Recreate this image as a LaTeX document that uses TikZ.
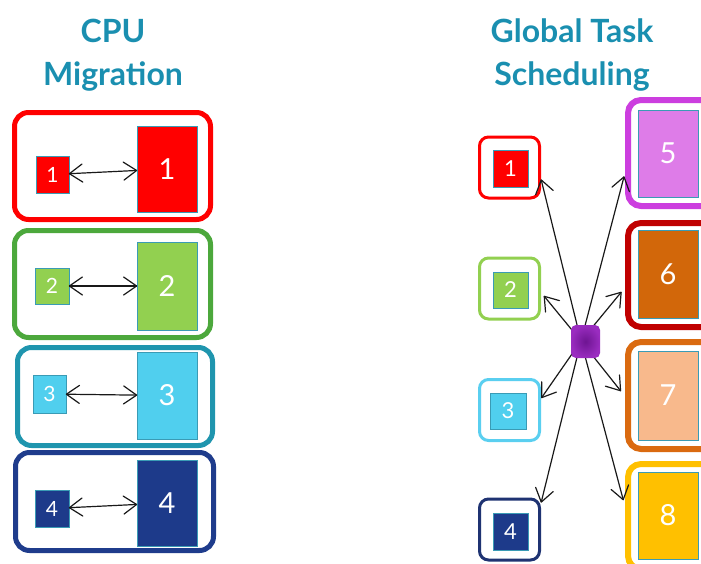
\documentclass[tikz,border=0pt]{standalone}
\usepackage{fontspec}
\setmainfont{Lato}
\usetikzlibrary{decorations.markings}

\definecolor{titleteal}{HTML}{1A8FB0}
\definecolor{innerline}{HTML}{3A9BB5}
\definecolor{cpured}{HTML}{FF0000}
\definecolor{greenframe}{HTML}{4CA83C}
\definecolor{greenfill}{HTML}{92D050}
\definecolor{tealframe}{HTML}{1F95AE}
\definecolor{cyanfill}{HTML}{50CFEE}
\definecolor{navyframe}{HTML}{1F3C8C}
\definecolor{navyfill}{HTML}{1D3A8A}
\definecolor{navydark}{HTML}{1F3372}
\definecolor{cyanframe}{HTML}{5ACFF0}
\definecolor{magframe}{HTML}{CC3EDF}
\definecolor{magfill}{HTML}{DE7CE8}
\definecolor{darkred}{HTML}{C00000}
\definecolor{rustfill}{HTML}{D2670A}
\definecolor{orangeframe}{HTML}{DA6A10}
\definecolor{peachfill}{HTML}{F8B98C}
\definecolor{amber}{HTML}{FFC000}
\definecolor{hubdark}{HTML}{6E1592}
\definecolor{hublight}{HTML}{9A2CC0}

\tikzset{
  heading/.style={text=titleteal, font=\fontsize{32}{34}\selectfont\bfseries, anchor=base},
  bigframe/.style={draw, fill=white, rounded corners=14pt, line width=5pt, inner sep=0pt},
  smallframe/.style={draw, fill=white, rounded corners=9pt, line width=3pt, inner sep=0pt,
    minimum width=60pt, minimum height=61pt},
  cpuframe/.style={draw, fill=white, rounded corners=13pt, line width=6pt, inner sep=0pt,
    minimum width=88pt},
  core/.style={draw=innerline, line width=0.8pt, text=white, inner sep=0pt},
  smallcore/.style={core, font=\fontsize{21}{21}\selectfont},
  tinycore/.style={core, font=\fontsize{22}{22}\selectfont},
  bigcore/.style={core, minimum width=60pt, font=\fontsize{29}{29}\selectfont},
  % open V heads drawn as marks on the connector
  vhead/.style={draw=black!90, line width=1.2pt, line cap=round, line join=round,
    shorten >=0pt, shorten <=0pt},
  migrate/.style={draw=black!90, line width=1.2pt,
    postaction={decorate, decoration={markings,
      mark=at position 0 with {\draw[vhead] (13pt,9pt) -- (0pt,0pt) -- (13pt,-9pt);},
      mark=at position 1 with {\draw[vhead] (-13pt,9pt) -- (0pt,0pt) -- (-13pt,-9pt);}}}},
  dispatch/.style={draw=black!90, line width=1.2pt, shorten >=#1,
    postaction={decorate, decoration={markings,
      mark=at position -#1 with {\draw[vhead] (-13pt,9pt) -- (0pt,0pt) -- (-13pt,-9pt);}}}},
}

\begin{document}
\begin{tikzpicture}[x=1pt,y=-1pt]
\useasboundingbox (0,0) rectangle (701,563);
\clip (0,0) rectangle (701,563);

% headings
\node[heading] (hcpu) at (113,42) {CPU};
\node[heading] (hmig) at (113,85) {Migration};
\node[heading] (hglob) at (572,42) {Global Task};
\node[heading] (hsched) at (572,85) {Scheduling};

% ---------- CPU migration: small core <-> big core pairs ----------
\node[bigframe, draw=cpured, minimum width=196pt, minimum height=107pt] (m1) at (112.5,166) {};
\node[bigframe, draw=greenframe, minimum width=196pt, minimum height=107pt] (m2) at (112.5,284) {};
\node[bigframe, draw=tealframe, minimum width=195pt, minimum height=98pt] (m3) at (115,396.5) {};
\node[bigframe, draw=navyframe, minimum width=198pt, minimum height=98pt] (m4) at (114.5,501.5) {};

\node[smallcore, fill=cpured, minimum width=33pt, minimum height=37pt] (s1) at (52.5,174.5) {1};
\node[smallcore, fill=greenfill, minimum width=34pt, minimum height=36pt] (s2) at (52,286) {2};
\node[smallcore, fill=cyanfill, minimum width=33pt, minimum height=38pt] (s3) at (49.5,394) {3};
\node[smallcore, fill=navyfill, minimum width=34pt, minimum height=37pt] (s4) at (52,508.5) {4};

\node[bigcore, fill=cpured, minimum height=86pt] (b1) at (167,169) {1};
\node[bigcore, fill=greenfill, minimum height=88pt] (b2) at (167,286) {2};
\node[bigcore, fill=cyanfill, minimum height=87pt] (b3) at (167,395.5) {3};
\node[bigcore, fill=navyfill, minimum height=86pt] (b4) at (167,503) {4};

\draw[migrate] (s1) -- (b1);
\draw[migrate] (s2) -- (b2);
\draw[migrate] (s3) -- (b3);
\draw[migrate] (s4) -- (b4);

% ---------- Global task scheduling: hub feeding all eight cores ----------
\node[smallframe, draw=cpured] (r1) at (509.5,167.5) {};
\node[smallframe, draw=greenfill] (r2) at (509.5,288.5) {};
\node[smallframe, draw=cyanframe] (r3) at (509.5,410) {};
\node[smallframe, draw=navydark] (r4) at (509.5,529.5) {};

\node[tinycore, fill=cpured, minimum width=35pt, minimum height=37pt] (t1) at (510.5,168.5) {1};
\node[tinycore, fill=greenfill, minimum width=35pt, minimum height=36pt] (t2) at (510.5,290) {2};
\node[tinycore, fill=cyanfill, minimum width=36pt, minimum height=36pt] (t3) at (508,411) {3};
\node[tinycore, fill=navyfill, minimum width=35pt, minimum height=37pt] (t4) at (510.5,531.5) {4};

\node[cpuframe, draw=magframe, minimum height=106pt] (r5) at (672,153) {};
\node[cpuframe, draw=darkred, minimum height=104pt] (r6) at (672,275) {};
\node[cpuframe, draw=orangeframe, minimum height=107pt] (r7) at (672,395.5) {};
\node[cpuframe, draw=amber, minimum height=105pt] (r8) at (672,516.5) {};

\node[bigcore, fill=magfill, minimum height=87pt] (c5) at (668,153.5) {5};
\node[bigcore, fill=rustfill, minimum height=88pt] (c6) at (668,274) {6};
\node[bigcore, fill=peachfill, minimum height=89pt] (c7) at (668,395.5) {7};
\node[bigcore, fill=amber, minimum height=87pt] (c8) at (668,515.5) {8};

\coordinate (hc) at (581,341);
\draw[dispatch=1pt] (hc) -- (r1.-20);
\draw[dispatch=5pt] (hc) -- (r2.-7);
\draw[dispatch=1pt] (hc) -- (r3.20);
\draw[dispatch=1pt] (hc) -- (r4.40);
\draw[dispatch=4pt] (hc) -- (r5.203);
\draw[dispatch=6pt] (hc) -- (r6.195);
\draw[dispatch=7pt] (hc) -- (r7.181);
\draw[dispatch=7pt] (hc) -- (r8.168);

\node[draw=none, rounded corners=5pt, inner color=hubdark, outer color=hublight,
  minimum width=29pt, minimum height=33pt, inner sep=0pt] (hub) at (585.5,341.5) {};
\end{tikzpicture}
\end{document}
